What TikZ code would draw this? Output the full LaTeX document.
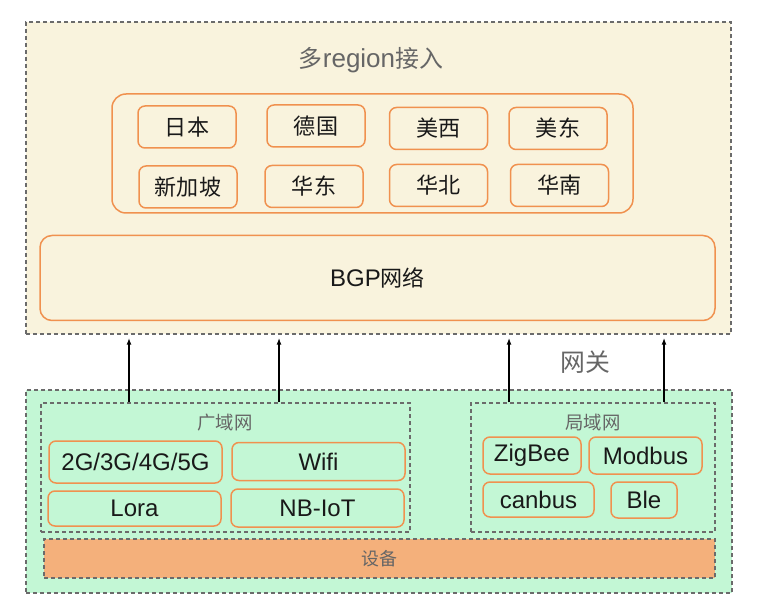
\documentclass[tikz,border=0pt]{standalone}
\usepackage{fontspec}
\setmainfont{Liberation Sans}
\newfontfamily\cjk{Noto Sans CJK SC}[Scale=0.92]
\usepackage{tikz}
\usetikzlibrary{arrows.meta,positioning}
\definecolor{cloudfill}{HTML}{F9F3DD}
\definecolor{fieldfill}{HTML}{C3F7D5}
\definecolor{boxorange}{HTML}{F0914F}
\definecolor{devfill}{HTML}{F4B07B}
\colorlet{framegray}{black!58}
\colorlet{labelgray}{black!60}

\begin{document}
\begin{tikzpicture}[x=1pt, y=-1pt,
    frame/.style={draw=framegray, line width=1.4pt, dash pattern=on 4pt off 3pt},
    regbox/.style={draw=boxorange, line width=1.5pt, rounded corners=7pt, fill=cloudfill,
      minimum width=98pt, minimum height=42pt, font=\fontsize{24}{26}\selectfont\cjk, text=black!90},
    linkbox/.style={draw=boxorange, line width=1.5pt, rounded corners=7pt, fill=fieldfill,
      minimum height=37pt, inner xsep=2pt, font=\fontsize{24}{26}\selectfont, text=black!90},
    uplink/.style={-{Latex[length=7pt,width=5pt]}, line width=1.5pt, shorten >=3pt}]
  \useasboundingbox (0,0) rectangle (766,612);
  % upper layer: multi-region access
  \node[frame, fill=cloudfill, minimum width=705pt, minimum height=312pt] (cloud) at (378.5,178) {};
  \node[text=labelgray, font=\fontsize{26}{28}\selectfont] (cloudtitle) at (371,60) {{\cjk 多}region{\cjk 接入}};
  \node[draw=boxorange, line width=1.5pt, rounded corners=14pt, minimum width=521pt, minimum height=119pt] (regions) at (372.5,153.5) {};
  \node[regbox] (jp) at (187,127) {日本};
  \node[regbox] (de) at (316,126) {德国};
  \node[regbox] (usw) at (438.5,128.5) {美西};
  \node[regbox] (use) at (558,128.5) {美东};
  \node[regbox] (sg) at (188,187) {新加坡};
  \node[regbox] (cne) at (314,186.5) {华东};
  \node[regbox] (cnn) at (438.5,185.5) {华北};
  \node[regbox] (cns) at (559.5,185.5) {华南};
  \node[draw=boxorange, line width=1.5pt, rounded corners=12pt, minimum width=675pt, minimum height=85pt,
    font=\fontsize{24}{26}\selectfont, text=black!90] (bgp) at (377.5,278) {BGP{\cjk 网络}};
  % lower layer: field networks
  \node[frame, fill=fieldfill, minimum width=706pt, minimum height=203pt] (field) at (379,491.5) {};
  \node[frame, minimum width=369pt, minimum height=129pt] (wan) at (225.5,467.5) {};
  \node[text=labelgray, font=\fontsize{20}{22}\selectfont\cjk] (wantitle) at (225,423) {广域网};
  \node[linkbox, minimum width=173pt, minimum height=42pt] (cell) at (135.5,462) {2G/3G/4G/5G};
  \node[linkbox, minimum width=173pt, minimum height=38pt] (wifi) at (318.5,461.5) {Wifi};
  \node[linkbox, minimum width=173pt, minimum height=35pt] (lora) at (134.5,508.5) {Lora};
  \node[linkbox, minimum width=173pt, minimum height=38pt] (nbiot) at (317.5,508) {NB-IoT};
  \node[frame, minimum width=244pt, minimum height=129pt] (lan) at (593,467.5) {};
  \node[text=labelgray, font=\fontsize{20}{22}\selectfont\cjk] (lantitle) at (593,423) {局域网};
  \node[linkbox, minimum width=98pt] (zigbee) at (532,455.5) {ZigBee};
  \node[linkbox, minimum width=113pt] (modbus) at (645.5,455.5) {Modbus};
  \node[linkbox, minimum width=111pt, minimum height=35pt] (canbus) at (538.5,499.5) {canbus};
  \node[linkbox, minimum width=66pt, minimum height=36pt] (ble) at (644,500) {Ble};
  \node[frame, fill=devfill, minimum width=671pt, minimum height=39pt, text=labelgray,
    font=\fontsize{19.5}{21}\selectfont\cjk] (device) at (379.5,558.5) {设备};
  % gateway arrows
  \coordinate (a1) at (129,0);
  \coordinate (a2) at (279,0);
  \coordinate (a3) at (509,0);
  \coordinate (a4) at (664,0);
  \draw[uplink] (wan.north -| a1) -- (cloud.south -| a1);
  \draw[uplink] (wan.north -| a2) -- (cloud.south -| a2);
  \draw[uplink] (lan.north -| a3) -- (cloud.south -| a3);
  \draw[uplink] (lan.north -| a4) -- (cloud.south -| a4);
  \node[text=labelgray, font=\fontsize{27}{29}\selectfont\cjk] (gateway) at (585,362) {网关};
\end{tikzpicture}
\end{document}
